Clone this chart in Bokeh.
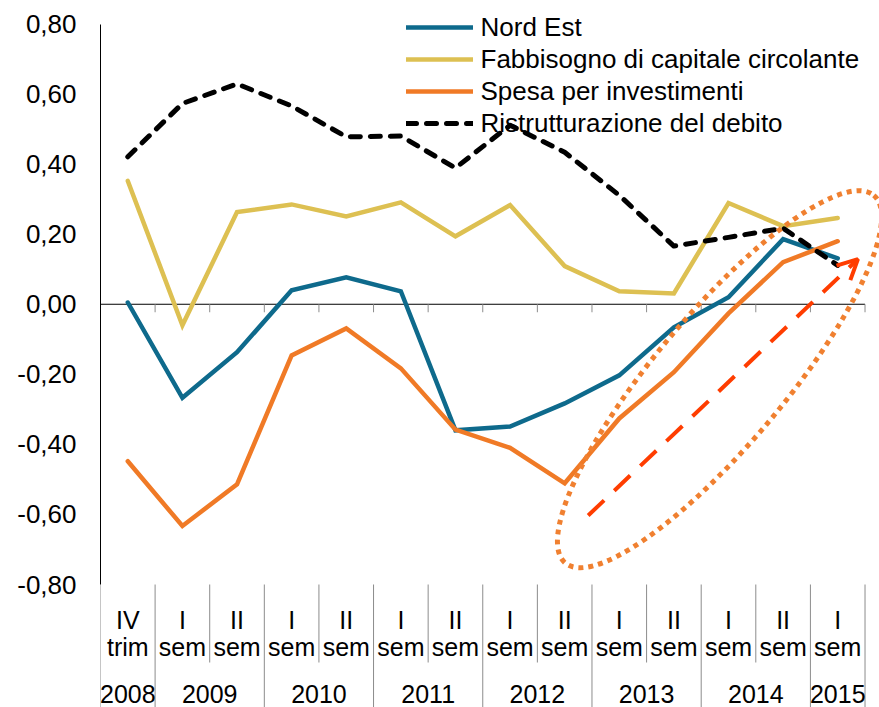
from bokeh.plotting import figure
from bokeh.models import Range1d, FixedTicker, Legend, LegendItem, Arrow, OpenHead
from bokeh.core.properties import value
from bokeh.embed import file_html
from bokeh.resources import INLINE

# ---------------- data ----------------
periods = ["IV", "I", "II", "I", "II", "I", "II", "I", "II", "I", "II", "I", "II", "I"]
kinds = ["trim"] + ["sem"] * 13
years = ["2008", "2009", "2009", "2010", "2010", "2011", "2011",
         "2012", "2012", "2013", "2013", "2014", "2014", "2015"]

nord_est = [0.005, -0.267, -0.137, 0.040, 0.077, 0.037, -0.360,
            -0.349, -0.283, -0.203, -0.066, 0.020, 0.186, 0.131]
fabbisogno = [0.352, -0.060, 0.263, 0.285, 0.251, 0.291, 0.194,
              0.283, 0.109, 0.037, 0.031, 0.289, 0.223, 0.246]
spesa = [-0.448, -0.633, -0.514, -0.146, -0.069, -0.183, -0.358,
         -0.410, -0.511, -0.326, -0.194, -0.026, 0.120, 0.180]
ristrutturazione = [0.421, 0.573, 0.629, 0.566, 0.478, 0.480, 0.389,
                    0.511, 0.434, 0.311, 0.166, 0.191, 0.217, 0.111]

series_names = ["Nord Est", "Fabbisogno di capitale circolante",
                "Spesa per investimenti", "Ristrutturazione del debito"]

y_ticks = [-0.8, -0.6, -0.4, -0.2, 0.0, 0.2, 0.4, 0.6, 0.8]
y_tick_labels = ["-0,80", "-0,60", "-0,40", "-0,20", "0,00", "0,20", "0,40", "0,60", "0,80"]

# ---------------- styling ----------------
FONT = "Liberation Sans"
BLUE = "#0E6A8C"
YELLOW = "#DDC052"
ORANGE = "#F07A26"
BLACK = "#000000"
RED = "#FF3D00"
ELL = "#F08030"
SEP = "#8C8C8C"

n = len(periods)
xc = [i + 0.5 for i in range(n)]

p = figure(width=879, height=707,
           x_range=Range1d(0, 14.265), y_range=Range1d(-1.1511, 0.8671),
           output_backend="svg", toolbar_location=None, x_axis_location=None,
           min_border_left=100, min_border_right=0, min_border_top=0, min_border_bottom=0,
           outline_line_color=None, background_fill_color="white")
p.grid.visible = False

ya = p.yaxis[0]
ya.ticker = FixedTicker(ticks=y_ticks)
ya.bounds = (-0.8, 0.8)
ya.major_label_overrides = dict(zip(y_ticks, y_tick_labels))
ya.major_tick_in = 0
ya.major_tick_out = 0
ya.minor_tick_in = 0
ya.minor_tick_out = 0
ya.major_label_standoff = 24
ya.major_label_text_font = FONT
ya.major_label_text_font_size = "26px"
ya.major_label_text_color = "black"
ya.axis_line_color = "black"
ya.axis_line_width = 1

# zero axis line with category ticks
p.segment(x0=[0], y0=[0], x1=[n], y1=[0], line_color="black", line_width=1)
p.ray(x=list(range(n + 1)), y=0, length=8, length_units="screen",
      angle=-90, angle_units="deg", line_color=SEP, line_width=1)

# separators in the label area
long_b = [i for i in range(n + 1) if i == 0 or i == n or years[i] != years[i - 1]]
short_b = [i for i in range(n + 1) if i not in long_b]
p.ray(x=long_b, y=-0.8, length=200, length_units="screen",
      angle=-90, angle_units="deg", line_color=SEP, line_width=1)
p.ray(x=short_b, y=-0.8, length=78, length_units="screen",
      angle=-90, angle_units="deg", line_color=SEP, line_width=1)

# category labels
p.text(x=xc, y=-0.8, text=periods, y_offset=35, text_align="center",
       text_baseline="middle", text_font=value(FONT), text_font_size="25px",
       text_color="black")
p.text(x=xc, y=-0.8, text=kinds, y_offset=62, text_align="center",
       text_baseline="middle", text_font=value(FONT), text_font_size="25px",
       text_color="black")
uniq_years = []
for yv in years:
    if yv not in uniq_years:
        uniq_years.append(yv)
year_x = [sum(xc[i] for i in range(n) if years[i] == yv) / years.count(yv) for yv in uniq_years]
p.text(x=year_x, y=-0.8, text=uniq_years, y_offset=109, text_align="center",
       text_baseline="middle", text_font=value(FONT), text_font_size="25px",
       text_color="black")

# series
r1 = p.line(xc, nord_est, line_color=BLUE, line_width=4.5, line_join="miter", line_cap="round")
r2 = p.line(xc, fabbisogno, line_color=YELLOW, line_width=4.5, line_join="miter", line_cap="round")
r3 = p.line(xc, spesa, line_color=ORANGE, line_width=4.5, line_join="miter", line_cap="round")
r4 = p.line(xc, ristrutturazione, line_color=BLACK, line_width=5, line_dash="10 10",
            line_join="round", line_cap="round")

legend = Legend(items=[LegendItem(label=series_names[0], renderers=[r1]),
                       LegendItem(label=series_names[1], renderers=[r2]),
                       LegendItem(label=series_names[2], renderers=[r3]),
                       LegendItem(label=series_names[3], renderers=[r4])],
                location=(305.5, 568), background_fill_alpha=0, border_line_color=None,
                padding=0, margin=0, spacing=0, glyph_width=67, glyph_height=32,
                label_height=32, label_standoff=8, label_text_font=FONT,
                label_text_font_size="26px", label_text_color="black")
p.add_layout(legend)

# annotations: dotted ellipse and dashed arrow
p.ellipse(x=11.336, y=-0.214, width=480, height=130, angle=50, angle_units="deg",
          width_units="screen", height_units="screen", fill_color=None,
          line_color=ELL, line_width=5, line_dash="5 5")
p.add_layout(Arrow(x_start=8.93, y_start=-0.603, x_end=13.87, y_end=0.129,
                   line_color=RED, line_width=4, line_dash="22 14",
                   end=OpenHead(size=20, line_color=RED, line_width=4)))

open("out.html", "w").write(file_html(p, INLINE))
